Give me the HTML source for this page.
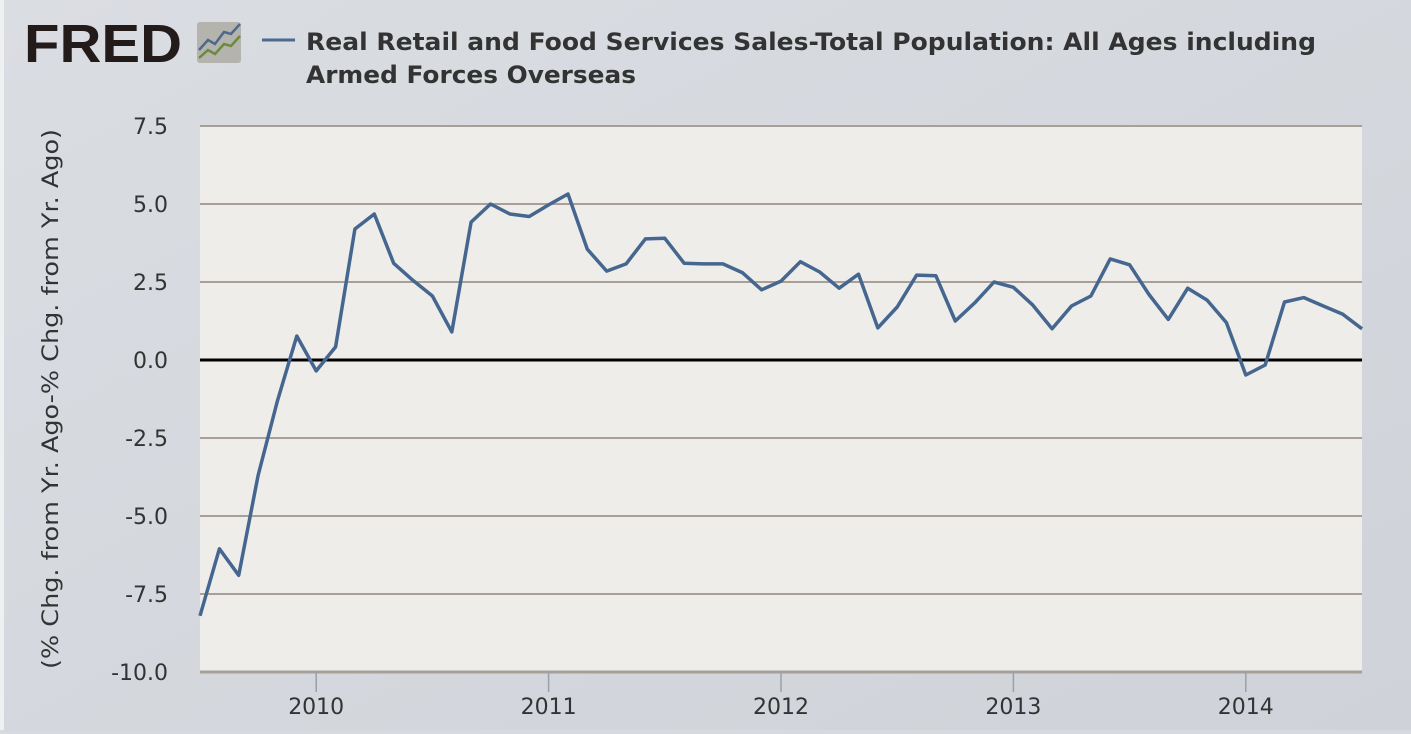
<!DOCTYPE html>
<html><head><meta charset="utf-8"><style>
body{margin:0;width:1411px;height:730px;overflow:hidden;background:#d6dadf;font-family:"DejaVu Sans",sans-serif}
</style></head><body>
<svg width="1411" height="730">
<defs><linearGradient id="bg" x1="0" y1="0" x2="1" y2="1"><stop offset="0" stop-color="#dadde2"/><stop offset="1" stop-color="#cfd3d9"/></linearGradient></defs>
<rect width="1411" height="730" fill="url(#bg)"/>
<rect x="0" y="0" width="4" height="730" fill="#eef0f2"/>
<g>
<text x="24" y="62" font-size="54" font-weight="bold" fill="#231a1a" textLength="158" lengthAdjust="spacingAndGlyphs" font-family="Liberation Sans, sans-serif">FRED</text>
<rect x="197" y="22" width="44" height="41" rx="3" fill="#b5b3ae"/>
<polyline points="199,50 208,40 215,44 224,32 231,34 240,24" fill="none" stroke="#4c6a8c" stroke-width="2.5"/>
<polyline points="199,58 208,50 215,54 224,44 231,46 240,36" fill="none" stroke="#6b8a3a" stroke-width="2.5"/>
</g>
<line x1="262" y1="40" x2="295" y2="40" stroke="#4b6a92" stroke-width="3"/>
<text x="306" y="50" font-size="24" font-weight="bold" fill="#333" textLength="1010" lengthAdjust="spacingAndGlyphs">Real Retail and Food Services Sales-Total Population: All Ages including</text>
<text x="306" y="83" font-size="24" font-weight="bold" fill="#333" textLength="330" lengthAdjust="spacingAndGlyphs">Armed Forces Overseas</text>
<rect x="200" y="126" width="1162" height="546" fill="#efedea"/>
<g id="grid"></g>
<g id="axes"></g>
<polyline id="series" fill="none" stroke="#45668f" stroke-width="3.5" stroke-linejoin="round"/>
<text transform="translate(58,399) rotate(-90)" text-anchor="middle" font-size="22" fill="#333" textLength="540" lengthAdjust="spacingAndGlyphs">(% Chg. from Yr. Ago-% Chg. from Yr. Ago)</text>
</svg>
<script>
const values=[-8.2,-6.05,-6.9,-3.7,-1.3,0.77,-0.35,0.42,4.2,4.68,3.1,2.55,2.05,0.9,4.42,5.0,4.68,4.6,4.97,5.32,3.55,2.85,3.08,3.88,3.9,3.1,3.08,3.08,2.8,2.25,2.53,3.15,2.82,2.3,2.75,1.03,1.7,2.72,2.7,1.25,1.83,2.5,2.33,1.76,1.0,1.73,2.05,3.24,3.05,2.1,1.3,2.3,1.92,1.2,-0.48,-0.16,1.86,2.0,1.73,1.47,1.0];
const startYear=2009.5;
const yTicks=[7.5,5.0,2.5,0.0,-2.5,-5.0,-7.5,-10.0];
const xTicks=[2010,2011,2012,2013,2014];
const NS="http://www.w3.org/2000/svg";
const X0=200,X1=1362,Y0=672,Y1=126;
const xs=t=>X0+(t-2009.5)/(2014.5-2009.5)*(X1-X0);
const ys=v=>Y0-(v+10)/17.5*(Y0-Y1);
const grid=document.getElementById('grid'),axes=document.getElementById('axes');
function mk(tag,at,parent){const e=document.createElementNS(NS,tag);for(const k in at)e.setAttribute(k,at[k]);parent.appendChild(e);return e;}
yTicks.forEach(v=>{
 const y=ys(v);
 const l=mk('line',{x1:X0,x2:X1,y1:y,y2:y,stroke:v===0?'#000':'#a99f99','stroke-width':v===0?3:2},grid);
 
 
 const t=mk('text',{x:168,y:y+8,'text-anchor':'end','font-size':22,fill:'#333'},axes);
 t.textContent=v.toFixed(1);
 
 
});
const bl=mk('line',{x1:X0,x2:X1,y1:Y0,y2:Y0,stroke:'#a99f99','stroke-width':3},axes);


xTicks.forEach(yr=>{
 const x=xs(yr);
 const tk=mk('line',{x1:x,x2:x,y1:Y0,y2:Y0+20,stroke:'#9aa0a8','stroke-width':1.5},axes);
 
 
 const t=mk('text',{x:x,y:714,'text-anchor':'middle','font-size':22,fill:'#333'},axes);
 t.textContent=yr;
 
 
});
document.getElementById('series').setAttribute('points',values.map((v,i)=>xs(startYear+i/12).toFixed(1)+','+ys(v).toFixed(1)).join(' '));
</script>
</body></html>
